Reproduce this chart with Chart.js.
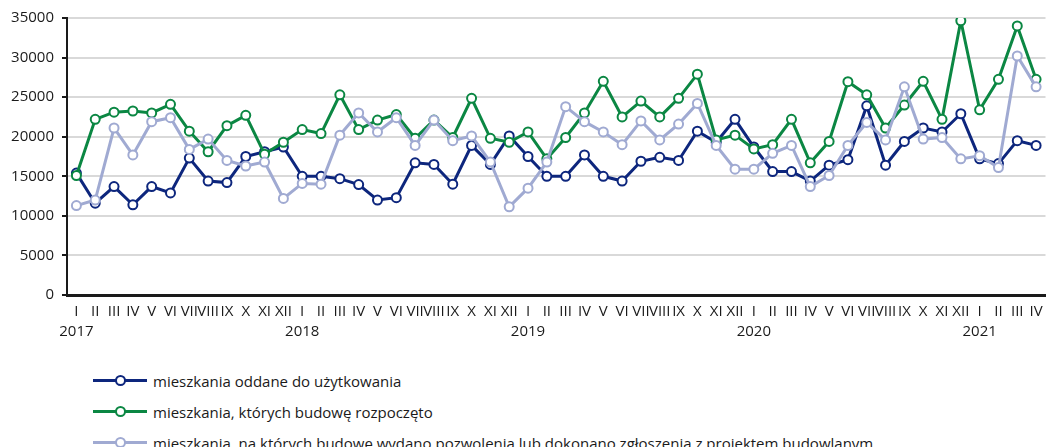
<!DOCTYPE html>
<html>
<head>
<meta charset="utf-8">
<script src="https://cdn.jsdelivr.net/npm/chart.js@4"></script>
<style>
  body { margin: 0; background: #fff; font-family: 'Open Sans', sans-serif; }
  .wrap { position: relative; width: 1052px; height: 447px; overflow: hidden; }
  #chart { position: absolute; left: 0; top: 0; }
  .legend { position: absolute; left: 93px; top: 365px; }
  .item { display: flex; align-items: center; height: 31px; font-size: 15px; color: #1a1a1a; }
  .mark { position: relative; width: 54px; height: 3px; margin-right: 6px; }
  .mark span { position: absolute; left: 22px; top: -4px; width: 7px; height: 7px; border-radius: 50%; background: #fff; border: 2px solid; }
</style>
</head>
<body>
<div class="wrap">
  <canvas id="chart" width="1052" height="345"></canvas>
  <div class="legend" id="legend"></div>
</div>
<script>
const months = ['I', 'II', 'III', 'IV', 'V', 'VI', 'VII', 'VIII', 'IX', 'X', 'XI', 'XII'];
const years = ['2017', '2018', '2019', '2020', '2021'];

const oddane = [
  15400, 11600, 13700, 11400, 13700, 12900, 17300, 14400, 14200, 17500, 18100, 18700,
  15000, 15000, 14700, 13950, 12000, 12300, 16700, 16500, 14000, 18900, 16500, 20100,
  17500, 15000, 15000, 17700, 15000, 14400, 16900, 17400, 17000, 20700, 19300, 22200,
  18700, 15600, 15600, 14400, 16400, 17100, 23900, 16400, 19400, 21100, 20600, 22900,
  17200, 16600, 19500, 18900
];
const rozpoczete = [
  15100, 22200, 23100, 23250, 23000, 24100, 20700, 18100, 21400, 22700, 17800, 19300,
  20900, 20400, 25300, 20900, 22100, 22800, 19800, 22100, 19900, 24850, 19800, 19300,
  20600, 17200, 19900, 23000, 27000, 22500, 24500, 22500, 24850, 27900, 19600, 20200,
  18450, 19000, 22200, 16700, 19400, 26950, 25300, 21100, 24000, 27000, 22200, 34650,
  23400, 27250, 34000, 27250
];
const pozwolenia = [
  11300, 12000, 21100, 17700, 21900, 22400, 18400, 19700, 17000, 16300, 16800, 12200,
  14100, 14000, 20200, 23000, 20600, 22400, 18900, 22100, 19500, 20100, 16800, 11150,
  13500, 16800, 23800, 21900, 20600, 19000, 22000, 19600, 21600, 24200, 18900, 15900,
  15900, 17900, 18900, 13700, 15100, 18900, 21800, 19600, 26300, 19700, 19900, 17200,
  17600, 16100, 30200, 26300
];
const yTicks = [0, 5000, 10000, 15000, 20000, 25000, 30000, 35000];

const seriesNames = [
  'mieszkania oddane do użytkowania',
  'mieszkania, których budowę rozpoczęto',
  'mieszkania, na których budowę wydano pozwolenia lub dokonano zgłoszenia z projektem budowlanym'
];
const colors = ['#0d267d', '#0b8743', '#a0aad2'];

let labels = [];
for (let i = 0; i < oddane.length; i++) {
  let m = months[i % 12];
  labels.push(i % 12 === 0 ? [m, years[i / 12]] : [m]);
}

const ds = (data, idx, order) => ({
  label: seriesNames[idx],
  data: data,
  borderColor: colors[idx],
  backgroundColor: '#fff',
  pointBackgroundColor: '#fff',
  pointBorderColor: colors[idx],
  pointBorderWidth: 2,
  pointRadius: 4.5,
  borderWidth: 3,
  tension: 0,
  order: order
});

new Chart(document.getElementById('chart'), {
  type: 'line',
  data: {
    labels: labels,
    datasets: [ds(oddane, 0, 3), ds(rozpoczete, 1, 2), ds(pozwolenia, 2, 1)]
  },
  options: {
    responsive: false,
    animation: false,
    layout: { padding: { top: 18, right: 0, left: 0, bottom: 0 } },
    plugins: { legend: { display: false }, tooltip: { enabled: false } },
    scales: {
      x: {
        offset: true,
        grid: { display: false, drawTicks: false },
        border: { color: '#1a1a1a', width: 3 },
        ticks: {
          autoSkip: false, maxRotation: 0, minRotation: 0, padding: 7,
          color: '#1a1a1a', font: { family: 'Open Sans', size: 15, lineHeight: 1.3 }
        },
        afterFit: (s) => { s.height = 50; }
      },
      y: {
        min: 0, max: 35000,
        afterBuildTicks: (s) => { s.ticks = yTicks.map(v => ({ value: v })); },
        grid: { color: '#d9d9d9', lineWidth: 2, tickColor: '#1a1a1a', tickLength: 5 },
        border: { color: '#1a1a1a', width: 2 },
        ticks: {
          padding: 8, color: '#1a1a1a',
          font: { family: 'Open Sans', size: 15 },
          callback: (v) => String(v)
        },
        afterFit: (s) => { s.width = 67; }
      }
    }
  }
});

// legend
const legend = document.getElementById('legend');
seriesNames.forEach((name, i) => {
  const row = document.createElement('div');
  row.className = 'item';
  row.innerHTML = '<div class="mark" style="background:' + colors[i] + '"><span style="border-color:' + colors[i] + '"></span></div>' + name;
  legend.appendChild(row);
});
</script>
</body>
</html>
